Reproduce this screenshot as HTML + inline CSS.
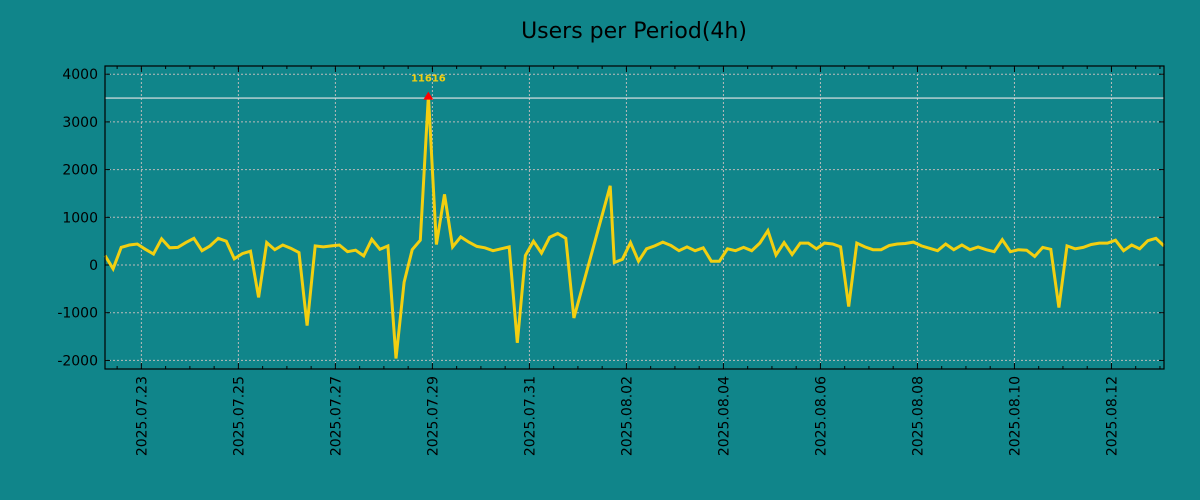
<!DOCTYPE html>
<html><head><meta charset="utf-8"><style>
body{margin:0;background:#10858a;}
svg{display:block;font-family:"DejaVu Sans","Liberation Sans",sans-serif;}
</style></head><body>
<svg id="chart" width="1200" height="500"></svg>
<script>
const startHour = 6;
const values1 = [200,-80,370,420,440,330,230,550,360,370,470,560,300,400,560,500,130,240,290,-680,470,320,420,350,260,-1270,400,380,400,420,280,310,190,540,330,400,-1960,-360,320,520,3550,430,1480,380,590,480,390,360,300,340,380,-1630,200,500,250,580,660,560,-1110];
const peakGapHours = [256];
const valuesGap = [1660];
const values2 = [50,120,470,80,340,400,480,410,300,380,300,360,80,80,340,300,370,300,460,720,210,470,220,460,460,340,460,440,380,-870,460,380,320,320,410,440,450,480,400,350,300,440,320,420,320,380,320,280,530,280,320,310,180,370,330,-890,400,340,370,430,460,460,520,300,420,340,510,560,400];
const tickDays = ["2025.07.23","2025.07.25","2025.07.27","2025.07.29","2025.07.31","2025.08.02","2025.08.04","2025.08.06","2025.08.08","2025.08.10","2025.08.12"];
const yTicks = [-2000,-1000,0,1000,2000,3000,4000];
const peakLabel = "11616";
const refLine = 3500;

const times=[],vals=[];
values1.forEach((v,i)=>{times.push(startHour+4*i);vals.push(v);});
peakGapHours.forEach((h,i)=>{times.push(h);vals.push(valuesGap[i]);});
values2.forEach((v,i)=>{times.push(258+4*i);vals.push(v);});

const L=105,R=1164,T=66,B=369;
const x0=6,x1=530,y0=-2180,y1=4172;
const X=h=>L+(h-x0)/(x1-x0)*(R-L);
const Y=v=>B-(v-y0)/(y1-y0)*(B-T);
const svg=document.getElementById('chart');
const NS='http://www.w3.org/2000/svg';
function mk(tag,attrs,name,parent){const e=document.createElementNS(NS,tag);for(const k in attrs)e.setAttribute(k,attrs[k]);


(parent||svg).appendChild(e);return e;}

const title=mk('text',{x:634,y:38,'text-anchor':'middle','font-size':22,fill:'#000'},'chart-title');title.textContent='Users per Period(4h)';
const grid=mk('g',{},'grid');
yTicks.forEach(v=>{mk('line',{x1:L,x2:R,y1:Y(v),y2:Y(v),stroke:'#bbb','stroke-dasharray':'2,2','stroke-width':1},'y-grid-line',grid);
mk('line',{x1:L,x2:L+5,y1:Y(v),y2:Y(v),stroke:'#000'},'y-tick',grid);
mk('line',{x1:R,x2:R-5,y1:Y(v),y2:Y(v),stroke:'#000'},'y-tick-right',grid);
const t=mk('text',{x:L-7,y:Y(v)+5,'text-anchor':'end','font-size':14,fill:'#000'},'y-tick-label');t.textContent=v;});
for(let h=12;h<x1;h+=12){if(h<x0)continue;const x=X(h);
mk('line',{x1:x,x2:x,y1:B,y2:B-3,stroke:'#000'},'x-minor-tick',grid);
mk('line',{x1:x,x2:x,y1:T,y2:T+3,stroke:'#000'},'x-minor-tick-top',grid);}
tickDays.forEach((d,i)=>{const x=X(24+48*i);
mk('line',{x1:x,x2:x,y1:T,y2:B,stroke:'#bbb','stroke-dasharray':'2,2'},'x-grid-line',grid);
mk('line',{x1:x,x2:x,y1:B,y2:B-6,stroke:'#000'},'x-tick',grid);
mk('line',{x1:x,x2:x,y1:T,y2:T+6,stroke:'#000'},'x-tick-top',grid);
const t=mk('text',{x:0,y:0,'text-anchor':'end','font-size':14,fill:'#000',transform:`translate(${x+5},376) rotate(-90)`},'x-tick-label');t.textContent=d;});
mk('line',{x1:L,x2:R,y1:Y(refLine),y2:Y(refLine),stroke:'#e8e8e8','stroke-width':1.2},'reference-line');
let d='';times.forEach((h,i)=>{d+=(i?'L':'M')+X(h).toFixed(1)+','+Y(vals[i]).toFixed(1);});
mk('path',{d:d,fill:'none',stroke:'#f2cf10','stroke-width':3,'stroke-linejoin':'miter'},'users-line');
let mi=0;vals.forEach((v,i)=>{if(v>vals[mi])mi=i;});
const px=X(times[mi]),py=Y(vals[mi]);
mk('path',{d:`M${px-5},${py+4}L${px+5},${py+4}L${px},${py-4}Z`,fill:'#ff0000'},'peak-marker');
const pl=mk('text',{x:px,y:py-14,'text-anchor':'middle','font-size':10,'font-weight':'bold',fill:'#f2cf10'},'peak-label');pl.textContent=peakLabel;
mk('rect',{x:L,y:T,width:R-L,height:B-T,fill:'none',stroke:'#000','stroke-width':1.2},'plot-frame');
</script>
</body></html>
